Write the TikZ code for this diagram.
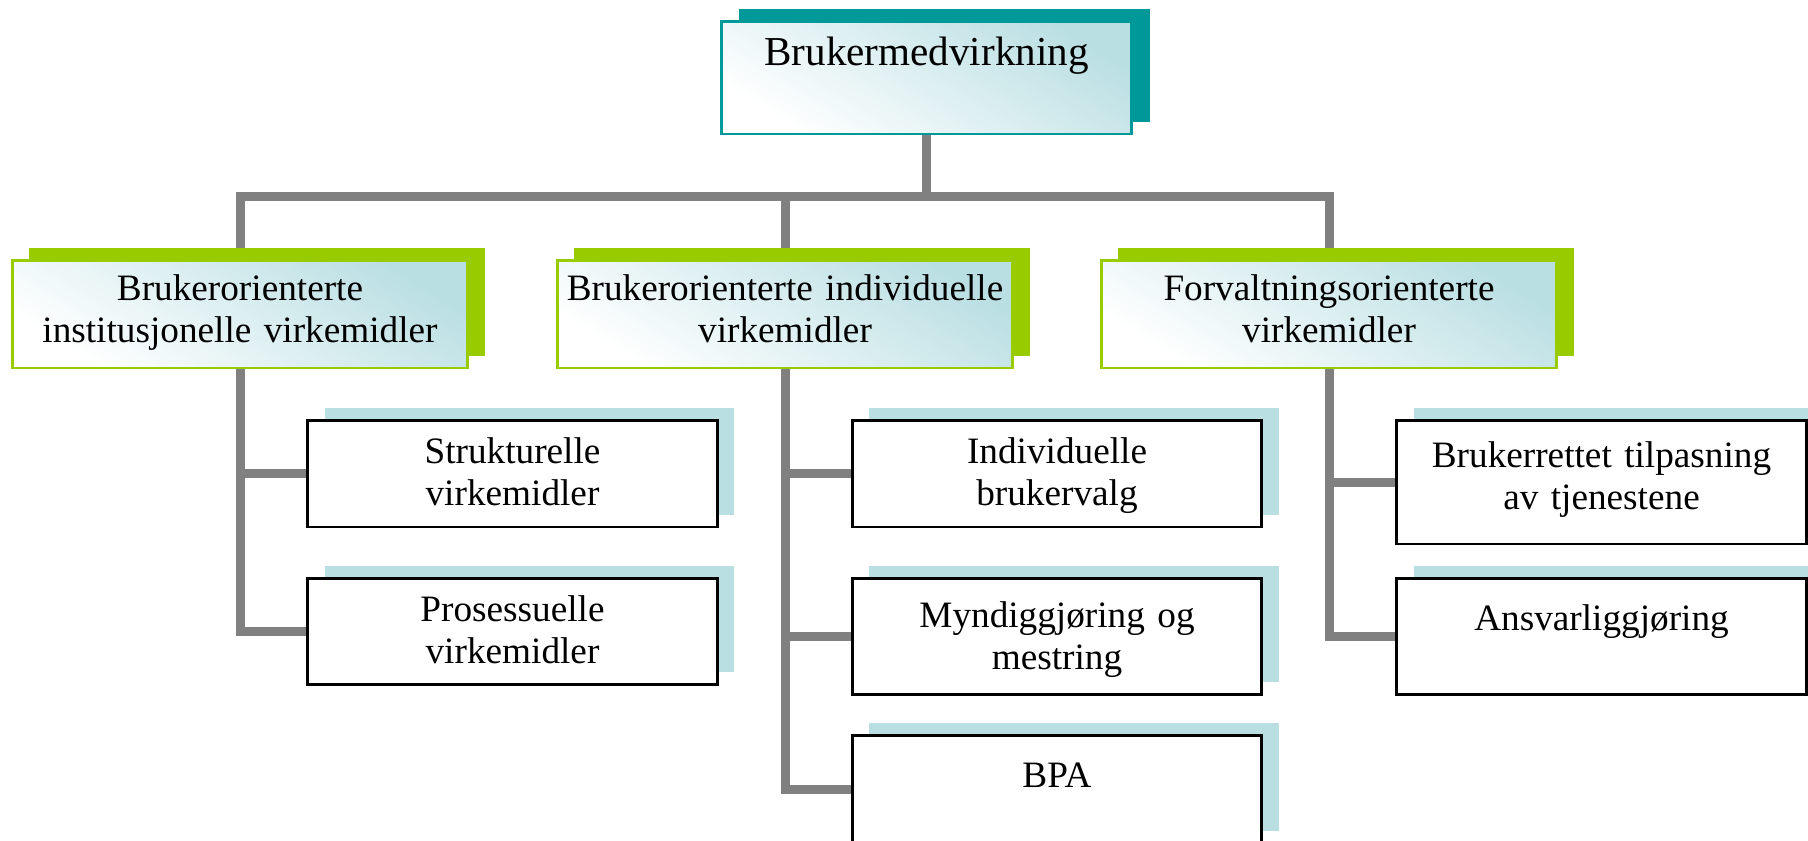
\documentclass[tikz,border=0pt]{standalone}
\usepackage{fontspec}
\setmainfont{Liberation Serif}
\usetikzlibrary{shadows,backgrounds}

\definecolor{headteal}{HTML}{009999}
\definecolor{groupgreen}{HTML}{99CC00}
\definecolor{paleteal}{HTML}{BADFE3}
\definecolor{linegray}{HTML}{808080}

\begin{document}
\begin{tikzpicture}[x=0.02cm,y=-0.02cm,
	box/.style={rectangle,inner sep=0pt,align=center,line width=1.7pt},
	headbox/.style={box,draw=headteal,text width=8.22cm,text height=0.88cm,text depth=1.38cm,
		top color=paleteal,bottom color=white,shading angle=-32,
		general shadow={fill=headteal,shadow xshift=0.36cm,shadow yshift=0.24cm},
		font=\fontsize{23.4pt}{26pt}\selectfont},
	groupbox/.style={box,draw=groupgreen,text width=9.12cm,text height=0.8cm,text depth=1.36cm,
		top color=paleteal,bottom color=white,shading angle=-32,
		general shadow={fill=groupgreen,shadow xshift=0.34cm,shadow yshift=0.24cm},
		font=\fontsize{21.2pt}{24.3pt}\selectfont},
	itembox/.style={box,draw=black,fill=white,text width=8.2cm,text height=0.86cm,text depth=1.28cm,
		general shadow={fill=paleteal,shadow xshift=0.34cm,shadow yshift=0.24cm},
		font=\fontsize{21.2pt}{24.3pt}\selectfont},
	conn/.style={draw=linegray,line width=0.18cm}]
	\useasboundingbox (0,0) rectangle (1808,840);
	% top
	\node[headbox] (top) at (926.5,77.5) {Brukermedvirkning};
	% second row
	\node[groupbox] (inst) at (240,314) {Brukerorienterte\\institusjonelle virkemidler};
	\node[groupbox] (indiv) at (785,314) {Brukerorienterte individuelle\\virkemidler};
	\node[groupbox] (forv) at (1329,314) {Forvaltningsorienterte\\virkemidler};
	% third row
	\node[itembox] (struk) at (512.5,473.5) {Strukturelle\\virkemidler};
	\node[itembox,text depth=1.26cm] (prosess) at (512.5,631) {Prosessuelle\\virkemidler};
	\node[itembox] (valg) at (1057,473.5) {Individuelle\\brukervalg};
	\node[itembox,text height=0.98cm,text depth=1.34cm] (mynd) at (1057,636) {Myndiggjøring og\\mestring};
	\node[itembox,text height=1.04cm,text depth=1.12cm] (bpa) at (1057,789) {BPA};
	\node[itembox,text height=0.94cm,text depth=1.54cm] (tilpas) at (1601.5,482) {Brukerrettet tilpasning\\av tjenestene};
	\node[itembox,text height=1.04cm,text depth=1.28cm] (ansvar) at (1601.5,636) {Ansvarliggjøring};
	% lines
	\coordinate (bus) at (926.5,196);
	\begin{scope}[on background layer]
	\draw[conn] (top.south) -- (top.south |- bus);
	\draw[conn] (inst.north) |- (bus -| forv.north) -- (forv.north);
	\draw[conn] (indiv.north) -- (indiv.north |- bus);
	\draw[conn] (inst.south) |- (prosess.west);
	\draw[conn] (inst.south |- struk.west) -- (struk.west);
	\draw[conn] (indiv.south) |- (bpa.west);
	\draw[conn] (indiv.south |- valg.west) -- (valg.west);
	\draw[conn] (indiv.south |- mynd.west) -- (mynd.west);
	\draw[conn] (forv.south) |- (ansvar.west);
	\draw[conn] (forv.south |- tilpas.west) -- (tilpas.west);
	\end{scope}
\end{tikzpicture}
\end{document}
